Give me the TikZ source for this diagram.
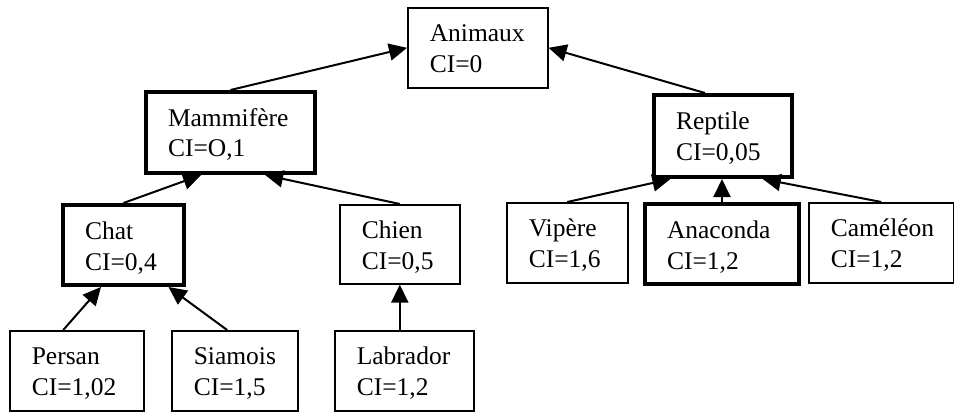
\documentclass[tikz,border=0pt]{standalone}
\usepackage{fontspec}
\setmainfont{Liberation Serif}
\usetikzlibrary{arrows.meta,calc}
\begin{document}
\begin{tikzpicture}[x=1pt,y=-1pt,
  box/.style={draw, line width=1.6pt, anchor=north west, align=left,
    inner xsep=22pt, inner ysep=0pt, text height=34pt,
    font=\fontsize{25.5}{31}\selectfont},
  bold/.style={line width=4pt},
  link/.style={line width=2pt, -{Triangle[length=18pt,width=17pt]}}]
\useasboundingbox (0,0) rectangle (954,412);

% top level
\node[box, text width=96pt, text depth=46pt] (ani) at (407,7) {Animaux\\CI=0};

% second level
\node[box, bold, text width=125pt, text depth=47pt] (mam) at (144,90) {Mammifère\\CI=O,1};
\node[box, bold, text width=94pt, text depth=48pt] (rep) at (652,93) {Reptile\\CI=0,05};

% third level
\node[box, bold, text width=77pt, text depth=46pt] (chat) at (61,203) {Chat\\CI=0,4};
\node[box, text width=76pt, text depth=45pt] (chien) at (339,204) {Chien\\CI=0,5};
\node[box, text width=77pt, text depth=46pt] (vip) at (506,202) {Vipère\\CI=1,6};
\node[box, bold, text width=110pt, text depth=46pt] (ana) at (643,202) {Anaconda\\CI=1,2};
\node[box, text width=101pt, text depth=46pt] (cam) at (808,202) {Caméléon\\CI=1,2};

% fourth level
\node[box, text width=90pt, text depth=46pt] (persan) at (9,330) {Persan\\CI=1,02};
\node[box, text width=82pt, text depth=46pt] (siam) at (171,330) {Siamois\\CI=1,5};
\node[box, text width=95pt, text depth=46pt] (lab) at (334,330) {Labrador\\CI=1,2};

% connectors, child to parent
\draw[link] (mam.north) -- (ani.west);
\draw[link] ($(rep.north)+(-18,0)$) -- (ani.east);
\draw[link] (chat.north) -- ($(mam.south west)!0.33!(mam.south east)$);
\draw[link] (chien.north) -- ($(mam.south west)!0.70!(mam.south east)$);
\draw[link] ($(persan.north west)!0.40!(persan.north east)$) -- ($(chat.south west)!0.32!(chat.south east)$);
\draw[link] ($(siam.north west)!0.44!(siam.north east)$) -- ($(chat.south west)!0.86!(chat.south east)$);
\draw[link] (chien.south |- lab.north) -- (chien.south);
\draw[link] (vip.north) -- ($(rep.south west)!0.13!(rep.south east)$);
\draw[link] (ana.north) -- (ana.north |- rep.south);
\draw[link] (cam.north) -- ($(rep.south west)!0.78!(rep.south east)$);
\end{tikzpicture}
\end{document}
